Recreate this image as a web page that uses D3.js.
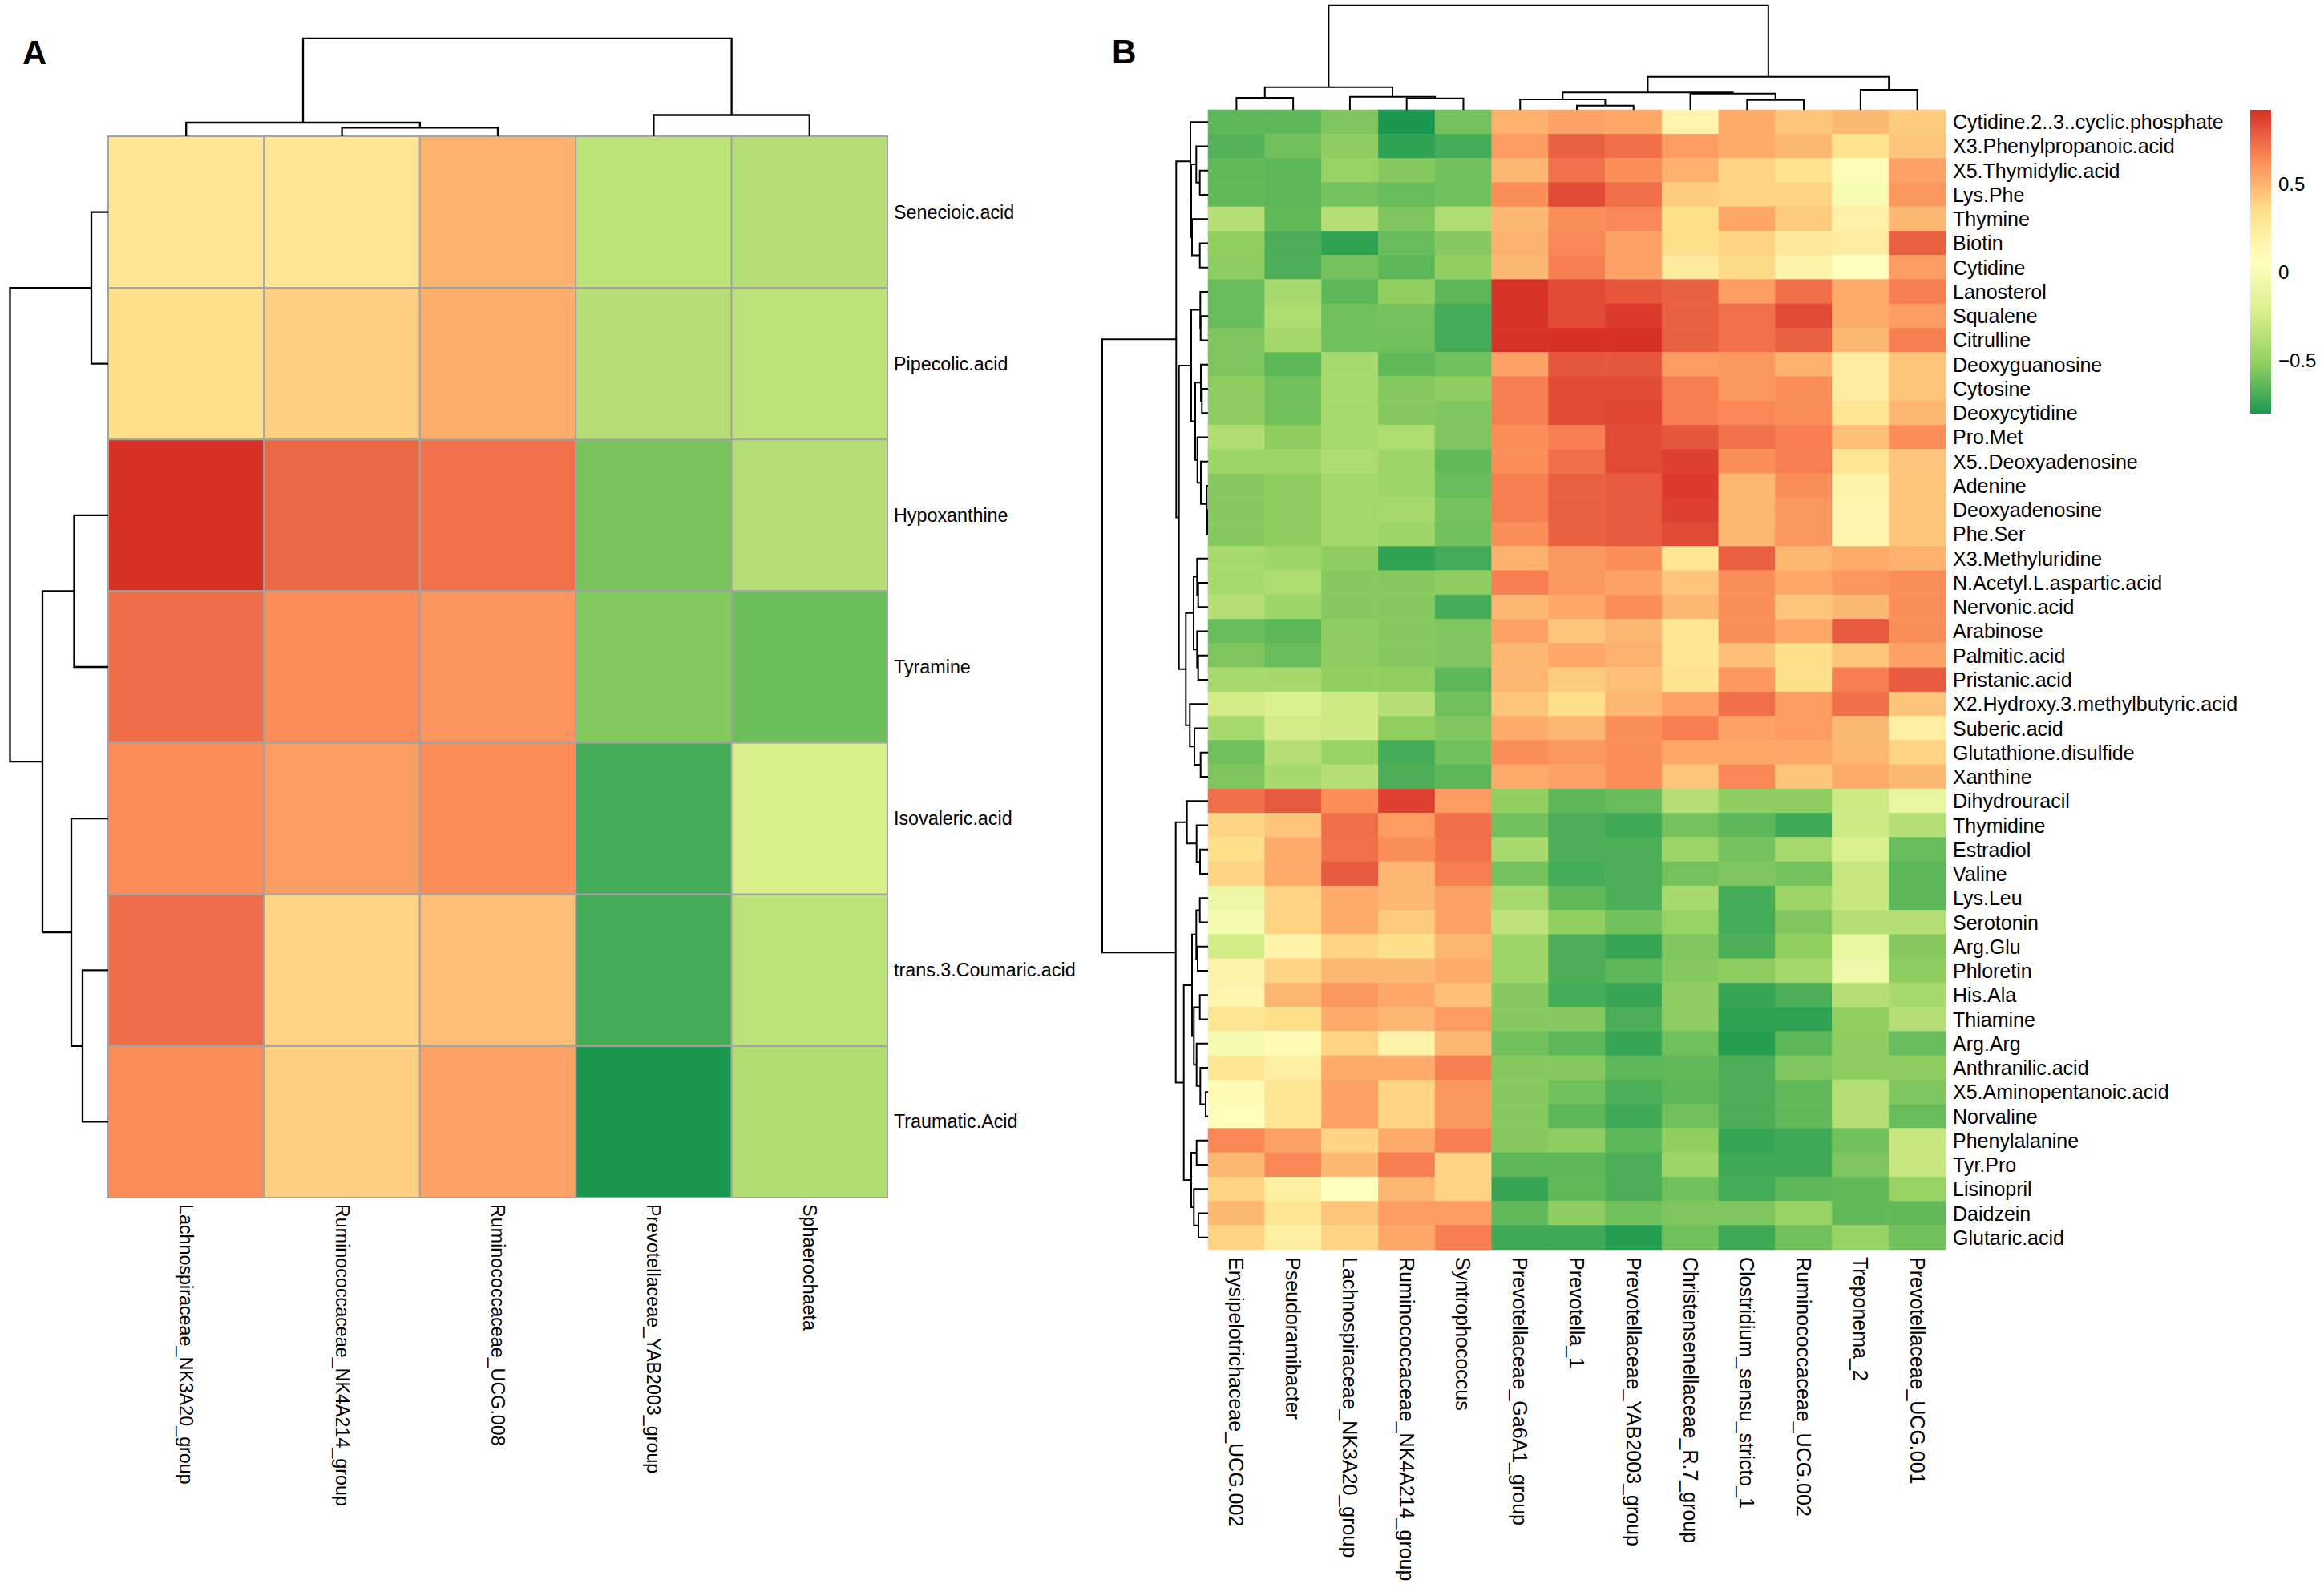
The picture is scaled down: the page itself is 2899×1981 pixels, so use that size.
<!DOCTYPE html>
<html>
<head>
<meta charset="utf-8">
<script src="https://cdn.jsdelivr.net/npm/d3@7/dist/d3.min.js"></script>
<style>
    body { margin: 0; background: #fff; }
    text { font-family: "Liberation Sans", Arial, Helvetica, sans-serif; fill: #000; }
</style>
</head>
<body>
<div id="chart-area"></div>
<script>
// ---- panel A data ----
var rowsA = ["Senecioic.acid", "Pipecolic.acid", "Hypoxanthine", "Tyramine",
    "Isovaleric.acid", "trans.3.Coumaric.acid", "Traumatic.Acid"];
var colsA = ["Lachnospiraceae_NK3A20_group", "Ruminococcaceae_NK4A214_group",
    "Ruminococcaceae_UCG.008", "Prevotellaceae_YAB2003_group", "Sphaerochaeta"];
var valuesA = [
    [0.17, 0.17, 0.31, -0.28, -0.30],
    [0.20, 0.24, 0.32, -0.30, -0.28],
    [0.60, 0.48, 0.46, -0.44, -0.30],
    [0.47, 0.40, 0.38, -0.42, -0.46],
    [0.40, 0.36, 0.40, -0.53, -0.20],
    [0.47, 0.23, 0.28, -0.53, -0.28],
    [0.40, 0.24, 0.35, -0.60, -0.31]
];
// dendrograms: [left, right, merge height], leaves are indices
var colTreeA = [[0, [1, 2, 10.6], 17], [3, 4, 26.5], 122.2];
var rowTreeA = [[0, 1, 21], [[2, 3, 42.5], [4, [5, 6, 32], 46], 82], 122.5];

// ---- panel B data ----
var colsB = ["Erysipelotrichaceae_UCG.002", "Pseudoramibacter", "Lachnospiraceae_NK3A20_group",
    "Ruminococcaceae_NK4A214_group", "Syntrophococcus", "Prevotellaceae_Ga6A1_group",
    "Prevotella_1", "Prevotellaceae_YAB2003_group", "Christensenellaceae_R.7_group",
    "Clostridium_sensu_stricto_1", "Ruminococcaceae_UCG.002", "Treponema_2",
    "Prevotellaceae_UCG.001"];
var rowsB = ["Cytidine.2..3..cyclic.phosphate", "X3.Phenylpropanoic.acid", "X5.Thymidylic.acid",
    "Lys.Phe", "Thymine", "Biotin", "Cytidine", "Lanosterol", "Squalene", "Citrulline",
    "Deoxyguanosine", "Cytosine", "Deoxycytidine", "Pro.Met", "X5..Deoxyadenosine", "Adenine",
    "Deoxyadenosine", "Phe.Ser", "X3.Methyluridine", "N.Acetyl.L.aspartic.acid", "Nervonic.acid",
    "Arabinose", "Palmitic.acid", "Pristanic.acid", "X2.Hydroxy.3.methylbutyric.acid",
    "Suberic.acid", "Glutathione.disulfide", "Xanthine", "Dihydrouracil", "Thymidine",
    "Estradiol", "Valine", "Lys.Leu", "Serotonin", "Arg.Glu", "Phloretin", "His.Ala",
    "Thiamine", "Arg.Arg", "Anthranilic.acid", "X5.Aminopentanoic.acid", "Norvaline",
    "Phenylalanine", "Tyr.Pro", "Lisinopril", "Daidzein", "Glutaric.acid"];
var valuesB = [
    [-0.64, -0.64, -0.56, -0.80, -0.58, 0.51, 0.56, 0.54, 0.16, 0.53, 0.44, 0.48, 0.42],
    [-0.66, -0.59, -0.52, -0.75, -0.70, 0.58, 0.77, 0.73, 0.58, 0.53, 0.48, 0.32, 0.44],
    [-0.63, -0.64, -0.49, -0.54, -0.59, 0.49, 0.72, 0.63, 0.51, 0.39, 0.32, 0.10, 0.56],
    [-0.63, -0.64, -0.58, -0.61, -0.59, 0.63, 0.84, 0.73, 0.41, 0.39, 0.39, -0.01, 0.60],
    [-0.37, -0.63, -0.37, -0.56, -0.39, 0.48, 0.63, 0.65, 0.35, 0.54, 0.42, 0.20, 0.48],
    [-0.51, -0.68, -0.75, -0.61, -0.54, 0.51, 0.65, 0.56, 0.35, 0.39, 0.27, 0.23, 0.77],
    [-0.52, -0.68, -0.58, -0.64, -0.51, 0.48, 0.68, 0.56, 0.25, 0.37, 0.18, 0.06, 0.58],
    [-0.61, -0.42, -0.64, -0.51, -0.64, 0.91, 0.84, 0.80, 0.77, 0.58, 0.73, 0.53, 0.68],
    [-0.61, -0.40, -0.59, -0.58, -0.70, 0.91, 0.84, 0.89, 0.77, 0.72, 0.84, 0.53, 0.58],
    [-0.56, -0.44, -0.59, -0.59, -0.70, 0.91, 0.92, 0.92, 0.77, 0.72, 0.77, 0.48, 0.68],
    [-0.56, -0.64, -0.42, -0.63, -0.59, 0.56, 0.80, 0.80, 0.58, 0.60, 0.51, 0.23, 0.44],
    [-0.52, -0.59, -0.42, -0.54, -0.52, 0.68, 0.84, 0.84, 0.68, 0.60, 0.63, 0.23, 0.44],
    [-0.52, -0.59, -0.42, -0.54, -0.56, 0.68, 0.84, 0.85, 0.68, 0.65, 0.63, 0.30, 0.49],
    [-0.39, -0.52, -0.42, -0.40, -0.56, 0.63, 0.68, 0.84, 0.80, 0.72, 0.68, 0.46, 0.63],
    [-0.46, -0.46, -0.40, -0.46, -0.63, 0.63, 0.73, 0.84, 0.87, 0.63, 0.68, 0.30, 0.44],
    [-0.54, -0.52, -0.44, -0.46, -0.61, 0.68, 0.77, 0.79, 0.89, 0.49, 0.63, 0.18, 0.44],
    [-0.54, -0.52, -0.44, -0.42, -0.58, 0.68, 0.77, 0.79, 0.87, 0.49, 0.60, 0.15, 0.44],
    [-0.54, -0.52, -0.44, -0.46, -0.59, 0.63, 0.77, 0.79, 0.84, 0.49, 0.60, 0.15, 0.44],
    [-0.42, -0.46, -0.52, -0.75, -0.70, 0.51, 0.60, 0.63, 0.30, 0.77, 0.49, 0.53, 0.51],
    [-0.42, -0.40, -0.54, -0.54, -0.52, 0.68, 0.60, 0.56, 0.44, 0.63, 0.54, 0.60, 0.63],
    [-0.37, -0.46, -0.54, -0.54, -0.70, 0.49, 0.54, 0.63, 0.49, 0.63, 0.44, 0.48, 0.63],
    [-0.61, -0.64, -0.52, -0.54, -0.56, 0.56, 0.44, 0.49, 0.30, 0.63, 0.54, 0.79, 0.63],
    [-0.56, -0.61, -0.52, -0.54, -0.56, 0.49, 0.54, 0.51, 0.30, 0.46, 0.35, 0.44, 0.56],
    [-0.42, -0.42, -0.51, -0.51, -0.64, 0.49, 0.42, 0.46, 0.32, 0.60, 0.35, 0.68, 0.79],
    [-0.25, -0.21, -0.27, -0.37, -0.59, 0.44, 0.35, 0.49, 0.56, 0.73, 0.58, 0.73, 0.44],
    [-0.42, -0.25, -0.27, -0.51, -0.56, 0.53, 0.49, 0.63, 0.68, 0.56, 0.58, 0.48, 0.22],
    [-0.59, -0.37, -0.49, -0.70, -0.59, 0.63, 0.60, 0.63, 0.54, 0.54, 0.54, 0.49, 0.39],
    [-0.56, -0.42, -0.37, -0.68, -0.64, 0.53, 0.56, 0.63, 0.44, 0.65, 0.44, 0.53, 0.48],
    [0.73, 0.79, 0.63, 0.87, 0.58, -0.51, -0.64, -0.61, -0.37, -0.52, -0.52, -0.27, -0.11],
    [0.39, 0.44, 0.73, 0.58, 0.73, -0.59, -0.68, -0.71, -0.58, -0.64, -0.71, -0.27, -0.37],
    [0.35, 0.53, 0.72, 0.63, 0.72, -0.42, -0.68, -0.68, -0.46, -0.58, -0.42, -0.21, -0.61],
    [0.39, 0.53, 0.79, 0.49, 0.68, -0.58, -0.70, -0.68, -0.58, -0.56, -0.58, -0.30, -0.64],
    [-0.08, 0.39, 0.53, 0.49, 0.56, -0.42, -0.63, -0.68, -0.42, -0.70, -0.46, -0.30, -0.64],
    [-0.02, 0.39, 0.53, 0.42, 0.56, -0.33, -0.51, -0.59, -0.49, -0.70, -0.56, -0.37, -0.37],
    [-0.25, 0.18, 0.39, 0.35, 0.49, -0.46, -0.68, -0.73, -0.56, -0.68, -0.51, -0.11, -0.54],
    [0.18, 0.39, 0.49, 0.48, 0.53, -0.46, -0.68, -0.64, -0.54, -0.52, -0.44, -0.06, -0.52],
    [0.16, 0.49, 0.60, 0.54, 0.46, -0.54, -0.70, -0.73, -0.52, -0.73, -0.68, -0.37, -0.42],
    [0.30, 0.35, 0.53, 0.49, 0.58, -0.54, -0.54, -0.68, -0.52, -0.75, -0.75, -0.51, -0.37],
    [-0.02, 0.11, 0.39, 0.18, 0.49, -0.59, -0.64, -0.73, -0.59, -0.77, -0.64, -0.52, -0.61],
    [0.30, 0.22, 0.53, 0.53, 0.68, -0.54, -0.54, -0.64, -0.63, -0.68, -0.56, -0.52, -0.52],
    [0.11, 0.30, 0.56, 0.39, 0.60, -0.54, -0.59, -0.68, -0.64, -0.68, -0.63, -0.37, -0.56],
    [0.08, 0.30, 0.56, 0.39, 0.60, -0.54, -0.64, -0.71, -0.59, -0.68, -0.63, -0.37, -0.61],
    [0.65, 0.56, 0.39, 0.53, 0.68, -0.54, -0.52, -0.64, -0.51, -0.73, -0.71, -0.59, -0.30],
    [0.49, 0.65, 0.48, 0.68, 0.39, -0.64, -0.64, -0.68, -0.46, -0.71, -0.71, -0.56, -0.30],
    [0.39, 0.22, 0.06, 0.49, 0.39, -0.73, -0.63, -0.68, -0.59, -0.70, -0.64, -0.63, -0.49],
    [0.48, 0.30, 0.44, 0.58, 0.58, -0.63, -0.52, -0.59, -0.56, -0.56, -0.49, -0.63, -0.63],
    [0.39, 0.22, 0.39, 0.54, 0.68, -0.71, -0.71, -0.77, -0.59, -0.71, -0.59, -0.49, -0.59]
];
var legendTicks = [-0.5, 0, 0.5];

var colTreeB = [
    [[0, 1, 15], [2, [3, 4, 14.3], 16.3], 28.3],
    [[[5, [6, 7, 5.3], 13], [8, [9, 10, 12.3], 20.3], 21.7], [11, 12, 25], 41.3],
    130.3];
var rowTreeB = [
    [
        [0, [[1, [2, 3, 10.3], 14.7], [4, [5, 6, 10.3], 20], 21], 22],
        [
            [[7, [8, 9, 9.3], 9.7], [[10, [11, 12, 7.7], 9], [13, [14, [15, [16, 17, 1], 1.7], 9], 13.3], 16], 21],
            [[[18, [19, 20, 12.3], 13.7], [21, [22, 23, 12.3], 13.7], 18], [24, [25, [26, 27, 9.3], 17], 22.7], 27.7],
            36.3],
        39.7],
    [
        [28, [29, [30, 31, 10], 14.3], 26.3],
        [
            [[[32, 33, 10.3], [34, 35, 13], 14.7], [[36, 37, 10.3], [38, [39, [40, 41, 3], 9.7], 14.3], 17.7], 20],
            [[42, 43, 14.3], [44, [45, 46, 12], 17.7], 21],
            30.3],
        40.3],
    132];

// ---- palette (reversed RdYlGn, 7 classes) ----
var palette = ["#1a9850", "#91cf60", "#d9ef8b", "#ffffbf", "#fee08b", "#fc8d59", "#d73027"];

function makeColor(values) {
    var ext = d3.extent(d3.merge(values));
    var stops = palette.map(function (c, i) {
        return ext[0] + (ext[1] - ext[0]) * i / (palette.length - 1);
    });
    return d3.scaleLinear().domain(stops).range(palette).interpolate(d3.interpolateRgb).clamp(true);
}

var svg = d3.select("#chart-area")
    .append("svg")
    .attr("width", 2899)
    .attr("height", 1981);

svg.append("rect").attr("width", 2899).attr("height", 1981).attr("fill", "#fff");

// draws a dendrogram, orient "top" (columns) or "left" (rows)
function drawTree(g, tree, band, hScale, orient, lw) {
    function pt(p, h) {
        return orient === "top" ? [p, hScale(h)] : [hScale(h), p];
    }
    function walk(node) {
        if (typeof node === "number") {
            return {p: band(node) + band.bandwidth() / 2, h: 0};
        }
        var a = walk(node[0]), b = walk(node[1]), h = node[2];
        var pts = [pt(a.p, a.h), pt(a.p, h), pt(b.p, h), pt(b.p, b.h)];
        g.append("path")
            .attr("d", d3.line()(pts))
            .attr("fill", "none")
            .attr("stroke", "#000")
            .attr("stroke-width", lw);
        return {p: (a.p + b.p) / 2, h: h};
    }
    walk(tree);
}

function drawHeatmap(opt) {
    var g = svg.append("g");
    var color = makeColor(opt.values);
    var x = d3.scaleBand().domain(d3.range(opt.cols.length)).range([opt.x0, opt.x1]);
    var y = d3.scaleBand().domain(d3.range(opt.rows.length)).range([opt.y0, opt.y1]);

    var cells = [];
    opt.values.forEach(function (row, r) {
        row.forEach(function (v, c) {
            cells.push({r: r, c: c, v: v});
        });
    });

    g.selectAll("rect.cell")
        .data(cells)
        .enter()
        .append("rect")
        .attr("class", "cell")
        .attr("x", function (d) { return x(d.c); })
        .attr("y", function (d) { return y(d.r); })
        .attr("width", x.bandwidth())
        .attr("height", y.bandwidth())
        .attr("fill", function (d) { return color(d.v); })
        .attr("stroke", function (d) { return opt.border || color(d.v); })
        .attr("stroke-width", opt.border ? opt.borderWidth : 0.6);

    // row labels
    g.selectAll("text.row")
        .data(opt.rows)
        .enter()
        .append("text")
        .attr("class", "row")
        .attr("x", opt.x1 + opt.labelGap)
        .attr("y", function (d, i) { return y(i) + y.bandwidth() / 2; })
        .attr("dominant-baseline", "central")
        .attr("font-size", opt.fontSize + "px")
        .text(function (d) { return d; });

    // column labels, rotated to read downwards
    g.selectAll("text.col")
        .data(opt.cols)
        .enter()
        .append("text")
        .attr("class", "col")
        .attr("transform", function (d, i) {
            return "translate(" + (x(i) + x.bandwidth() / 2) + "," + (opt.y1 + opt.labelGap) + ") rotate(90)";
        })
        .attr("dominant-baseline", "central")
        .attr("font-size", opt.fontSize + "px")
        .text(function (d) { return d; });

    var hCol = d3.scaleLinear().domain([0, opt.colTree[2]]).range([opt.y0, opt.colTop]);
    drawTree(g, opt.colTree, x, hCol, "top", opt.treeWidth);
    var hRow = d3.scaleLinear().domain([0, opt.rowTree[2]]).range([opt.x0, opt.rowLeft]);
    drawTree(g, opt.rowTree, y, hRow, "left", opt.treeWidth);

    return color;
}

// panel A
drawHeatmap({
    rows: rowsA, cols: colsA, values: valuesA,
    x0: 135, x1: 1107, y0: 170, y1: 1494,
    colTree: colTreeA, rowTree: rowTreeA,
    colTop: 47.8, rowLeft: 12.5,
    border: "#a3a3a3", borderWidth: 2,
    fontSize: 23.3, labelGap: 8, treeWidth: 2.3
});

// panel B
var colorB = drawHeatmap({
    rows: rowsB, cols: colsB, values: valuesB,
    x0: 1507, x1: 2427, y0: 137, y1: 1559,
    colTree: colTreeB, rowTree: rowTreeB,
    colTop: 6.7, rowLeft: 1375,
    border: null,
    fontSize: 25, labelGap: 9, treeWidth: 2
});

// legend for B
var extB = d3.extent(d3.merge(valuesB));
var legY = d3.scaleLinear().domain(extB).range([516, 137]);
var grad = svg.append("defs").append("linearGradient")
    .attr("id", "legGrad")
    .attr("x1", 0).attr("y1", 1).attr("x2", 0).attr("y2", 0);
d3.range(0, 1.0001, 0.02).forEach(function (t) {
    grad.append("stop")
        .attr("offset", t)
        .attr("stop-color", colorB(extB[0] + t * (extB[1] - extB[0])));
});
svg.append("rect")
    .attr("x", 2807)
    .attr("y", legY(extB[1]))
    .attr("width", 26)
    .attr("height", legY(extB[0]) - legY(extB[1]))
    .attr("fill", "url(#legGrad)");
svg.selectAll("text.leg")
    .data(legendTicks)
    .enter()
    .append("text")
    .attr("class", "leg")
    .attr("x", 2842)
    .attr("y", function (d) { return legY(d); })
    .attr("dominant-baseline", "central")
    .attr("font-size", "24px")
    .text(function (d) { return d3.format("")(d); });

// panel letters
svg.append("text").attr("x", 28).attr("y", 80)
    .attr("font-size", "42px").attr("font-weight", "bold").text("A");
svg.append("text").attr("x", 1387).attr("y", 79)
    .attr("font-size", "42px").attr("font-weight", "bold").text("B");
</script>
</body>
</html>
